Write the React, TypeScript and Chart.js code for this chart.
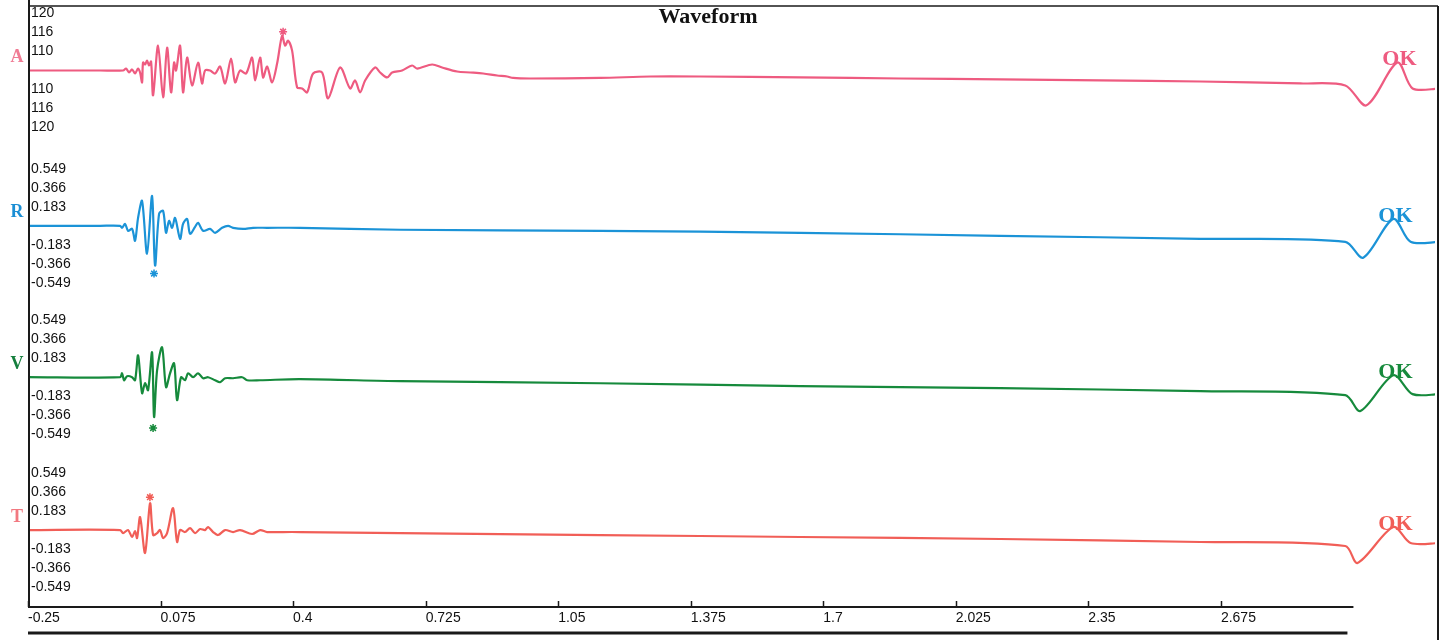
import React, { useEffect, useRef } from 'react';
import { Chart, registerables } from 'chart.js';

Chart.register(...registerables);

// ---- axis tick values / labels ----
const xTickValues = [-0.25, 0.075, 0.4, 0.725, 1.05, 1.375, 1.7, 2.025, 2.35, 2.675];
const xTickLabels = ['-0.25', '0.075', '0.4', '0.725', '1.05', '1.375', '1.7', '2.025', '2.35', '2.675'];
const ampTickValues = [0.549, 0.366, 0.183, -0.183, -0.366, -0.549];
const ampTickLabels = ['0.549', '0.366', '0.183', '-0.183', '-0.366', '-0.549'];
const aTickLabels = ['120', '116', '110', '110', '116', '120'];

const channelNames = ['A', 'R', 'V', 'T'];

// ---- channel A ----
const timeA = [-0.25, -0.0733, -0.0169, -0.0096, -0.0022, 0.0052, 0.0125, 0.0199, 0.0248, 0.0297, 0.0321, 0.037, 0.0419, 0.0468, 0.0518, 0.0567, 0.0689, 0.0812, 0.091, 0.1008, 0.1082, 0.1131, 0.1229, 0.1302, 0.1401, 0.1523, 0.167, 0.1768, 0.1842, 0.1965, 0.2087, 0.221, 0.2333, 0.248, 0.2578, 0.27, 0.2848, 0.2995, 0.3068, 0.3191, 0.3265, 0.3363, 0.3485, 0.3608, 0.3731, 0.3804, 0.3878, 0.3976, 0.4098, 0.4221, 0.4344, 0.4491, 0.4712, 0.4859, 0.5153, 0.5398, 0.552, 0.5643, 0.5766, 0.6011, 0.6134, 0.6306, 0.6428, 0.6673, 0.6919, 0.7041, 0.7409, 0.7654, 0.8022, 0.8341, 0.866, 0.9003, 0.9248, 0.9395, 0.9812, 1.1529, 1.2755, 1.3982, 1.6435, 1.8887, 2.134, 2.3793, 2.6246, 2.87, 2.98, 3.032, 3.108, 3.145, 3.213];
const ampA = [0, 0, 0, 0.019, -0.019, 0.01, -0.029, 0.019, -0.019, -0.115, 0.077, 0.058, 0.096, 0.048, 0.086, -0.24, 0.24, -0.259, 0.221, -0.211, 0.077, 0, 0.24, -0.211, 0.125, -0.144, 0.077, -0.125, 0, 0, -0.029, 0.038, -0.125, 0.115, -0.115, 0, -0.029, 0.125, -0.096, 0.125, -0.067, 0.038, -0.115, 0.067, 0.336, 0.24, 0.288, 0.192, -0.163, -0.173, -0.211, -0.029, -0.019, -0.269, 0.029, -0.173, -0.096, -0.211, -0.096, 0.029, -0.019, -0.067, -0.019, 0, 0.048, 0.019, 0.058, 0.029, -0.01, -0.019, -0.029, -0.048, -0.058, -0.072, -0.077, -0.072, -0.058, -0.058, -0.067, -0.077, -0.086, -0.096, -0.106, -0.125, -0.144, -0.336, 0.077, -0.173, -0.173];

// ---- channel R ----
const timeR = [-0.25, -0.0733, -0.0243, -0.0194, -0.012, -0.0047, 0.0052, 0.0125, 0.0199, 0.0297, 0.0419, 0.0542, 0.0616, 0.0714, 0.0812, 0.0885, 0.0959, 0.1033, 0.1106, 0.1229, 0.1302, 0.1401, 0.1474, 0.1597, 0.167, 0.1793, 0.1965, 0.2087, 0.2259, 0.2406, 0.2529, 0.2774, 0.3019, 0.3363, 0.4172, 0.6625, 1.1529, 1.6435, 2.134, 2.6246, 2.98, 3.024, 3.098, 3.14, 3.213];
const ampR = [0, 0, 0, -0.019, 0.019, -0.048, -0.029, -0.144, 0.077, 0.24, -0.269, 0.288, -0.384, 0.115, 0.144, -0.067, 0.048, -0.019, 0.077, -0.125, 0.019, 0.067, -0.077, -0.01, 0.029, -0.048, -0.029, -0.067, -0.019, 0, -0.019, -0.029, -0.019, -0.019, -0.019, -0.038, -0.048, -0.067, -0.096, -0.125, -0.154, -0.307, 0.067, -0.154, -0.154];

// ---- channel V ----
const timeV = [-0.25, -0.0243, -0.0194, -0.0145, -0.0071, 0.0052, 0.0125, 0.0199, 0.0297, 0.037, 0.0444, 0.0542, 0.0591, 0.0665, 0.0787, 0.0885, 0.0983, 0.1082, 0.1155, 0.1253, 0.1351, 0.1425, 0.1548, 0.167, 0.1793, 0.1916, 0.2087, 0.221, 0.2333, 0.2529, 0.275, 0.2873, 0.3191, 0.4172, 0.6625, 1.1529, 1.6435, 2.134, 2.6246, 2.98, 3.017, 3.098, 3.145, 3.213];
const ampV = [0, 0, 0.038, -0.029, 0.01, 0, -0.029, 0.211, -0.154, -0.058, -0.125, 0.24, -0.384, 0.067, 0.288, -0.096, 0.038, 0.134, -0.221, 0, -0.029, 0.038, 0, 0.038, -0.01, 0, -0.029, -0.048, -0.01, -0.01, 0, -0.029, -0.029, -0.019, -0.038, -0.058, -0.086, -0.106, -0.134, -0.173, -0.326, 0.019, -0.163, -0.163];

// ---- channel T ----
const timeT = [-0.25, -0.0243, -0.0169, -0.0047, 0.0052, 0.0125, 0.0174, 0.0248, 0.037, 0.0493, 0.0567, 0.0665, 0.0738, 0.0812, 0.091, 0.1057, 0.1155, 0.1229, 0.1351, 0.1474, 0.1597, 0.172, 0.1842, 0.1916, 0.2038, 0.2161, 0.2333, 0.2529, 0.27, 0.2995, 0.3191, 0.3363, 0.3755, 0.4172, 0.6625, 1.1529, 1.6435, 2.134, 2.6246, 2.98, 3.01, 3.098, 3.14, 3.213];
const ampT = [0, 0, -0.029, 0, -0.067, -0.01, -0.077, 0.125, -0.221, 0.259, -0.048, -0.029, 0, -0.077, -0.029, 0.211, -0.115, 0, -0.019, 0.019, -0.029, 0.01, 0, 0.029, -0.019, -0.048, 0, -0.019, 0, -0.038, 0, -0.019, -0.019, -0.019, -0.029, -0.048, -0.067, -0.086, -0.115, -0.154, -0.317, 0.029, -0.125, -0.125];

// ---- peak markers (*) and "OK" check points, per channel A,R,V,T ----
const peakTimes = [0.3755, 0.059, 0.0567, 0.049];
const peakAmps = [0.374, -0.46, -0.49, 0.317];
const okTimes = [3.108, 3.098, 3.098, 3.098];
const okAmps = [0.077, 0.067, 0.019, 0.029];

const lineColors = ['#ee5b80', '#1b93d7', '#168a3c', '#f15e57'];
const letterColors = ['#f07b94', '#1b8ed4', '#167f3e', '#f27880'];
const axisIds = ['yA', 'yR', 'yV', 'yT'];
const axisMins = [-0.866, -0.804, -0.78, -0.742];
const axisMaxs = [0.57, 0.632, 0.656, 0.694];
const X_MIN = -0.25;
const X_MAX = 3.2;
const X_AXIS_END = 3.0;

const serif = '"Liberation Serif", "Times New Roman", serif';
const sans = '"Liberation Sans", Arial, sans-serif';

const decorPlugin = {
  id: 'decor',
  afterDraw(chart: any) {
    const { ctx, chartArea, scales } = chart;
    const xs = scales.x;
    const line = (x1: number, y1: number, x2: number, y2: number, w: number) => {
      ctx.beginPath();
      ctx.lineWidth = w;
      ctx.moveTo(x1, y1);
      ctx.lineTo(x2, y2);
      ctx.stroke();
    };
    ctx.save();
    ctx.strokeStyle = '#1a1a1a';
    const left = chartArea.left;
    const bottom = chartArea.bottom;
    // frame
    line(left, 6, chartArea.right + 3, 6, 1.5);
    line(chartArea.right + 3, 6, chartArea.right + 3, 640, 2);
    line(left + 1, 0, left + 1, bottom, 2);
    // x axis
    const xEnd = xs.getPixelForValue(X_AXIS_END);
    line(left, bottom, xEnd, bottom, 2);
    xTickValues.forEach((v) => {
      const px = Math.round(xs.getPixelForValue(v)) + 0.5;
      line(px, bottom, px, bottom - 6, 1.5);
    });
    line(left, 633, xEnd - 6, 633, 3);
    // title
    ctx.fillStyle = '#111';
    ctx.font = `bold 22px ${serif}`;
    ctx.textAlign = 'center';
    ctx.textBaseline = 'middle';
    ctx.fillText('Waveform', 708, 17);
    // channel letters and OK labels
    channelNames.forEach((name, i) => {
      const ys = scales[axisIds[i]];
      const y0 = ys.getPixelForValue(0);
      ctx.fillStyle = letterColors[i];
      ctx.font = `bold 18px ${serif}`;
      ctx.textAlign = 'center';
      ctx.fillText(name, 17, y0 - 13);
      ctx.fillStyle = lineColors[i];
      ctx.font = `bold 22px ${serif}`;
      const ox = xs.getPixelForValue(okTimes[i]);
      const oy = ys.getPixelForValue(okAmps[i]);
      ctx.fillText('OK', ox + 2, oy - 3);
    });
    ctx.restore();
  },
};

export default function App() {
  const ref = useRef<HTMLCanvasElement>(null);

  useEffect(() => {
    if (!ref.current) return;
    const times = [timeA, timeR, timeV, timeT];
    const amps = [ampA, ampR, ampV, ampT];
    const datasets: any[] = [];
    channelNames.forEach((name, i) => {
      datasets.push({
        type: 'line',
        label: name,
        yAxisID: axisIds[i],
        data: times[i].map((t, j) => ({ x: t, y: amps[i][j] })),
        borderColor: lineColors[i],
        borderWidth: 2.2,
        borderJoinStyle: 'round',
        pointRadius: 0,
        tension: 0.3,
        fill: false,
      });
      datasets.push({
        type: 'line',
        label: name + ' peak',
        yAxisID: axisIds[i],
        showLine: false,
        data: [{ x: peakTimes[i], y: peakAmps[i] }],
        pointStyle: 'star',
        pointRadius: 4,
        borderWidth: 1.5,
        borderColor: lineColors[i],
        backgroundColor: lineColors[i],
      });
    });

    const scales: any = {
      x: {
        type: 'linear',
        min: X_MIN,
        max: X_MAX,
        grid: { display: false, drawTicks: false },
        border: { display: false },
        afterBuildTicks: (s: any) => {
          s.ticks = xTickValues.map((v) => ({ value: v }));
        },
        ticks: {
          align: 'start',
          padding: 3,
          autoSkip: false,
          maxRotation: 0,
          color: '#111',
          font: { family: sans, size: 14 },
          callback: (_v: any, idx: number) => xTickLabels[idx],
        },
      },
    };
    // defined bottom-to-top so that channel A ends up on top of the stack
    [3, 2, 1, 0].forEach((i) => {
      scales[axisIds[i]] = {
        type: 'linear',
        position: 'left',
        stack: 'channels',
        stackWeight: 1,
        min: axisMins[i],
        max: axisMaxs[i],
        grid: { display: false, drawTicks: false },
        border: { display: false },
        afterBuildTicks: (s: any) => {
          s.ticks = ampTickValues.map((v) => ({ value: v }));
        },
        ticks: {
          mirror: true,
          padding: 3,
          autoSkip: false,
          color: '#111',
          font: { family: sans, size: 14 },
          callback: (_v: any, idx: number) => (i === 0 ? aTickLabels : ampTickLabels)[idx],
        },
      };
    });

    const chart = new Chart(ref.current, {
      type: 'line',
      data: { datasets },
      options: {
        animation: false,
        responsive: false,
        events: [],
        layout: { padding: { left: 22, right: 10, top: 0, bottom: 10.2 } },
        plugins: { legend: { display: false }, tooltip: { enabled: false }, title: { display: false } },
        scales,
      },
      plugins: [decorPlugin],
    } as any);
    return () => chart.destroy();
  }, []);

  return (
    <div style={{ position: 'fixed', left: 0, top: 0, width: 1445, height: 640, background: '#fff' }}>
      <canvas ref={ref} width={1445} height={640} style={{ display: 'block' }} />
    </div>
  );
}
